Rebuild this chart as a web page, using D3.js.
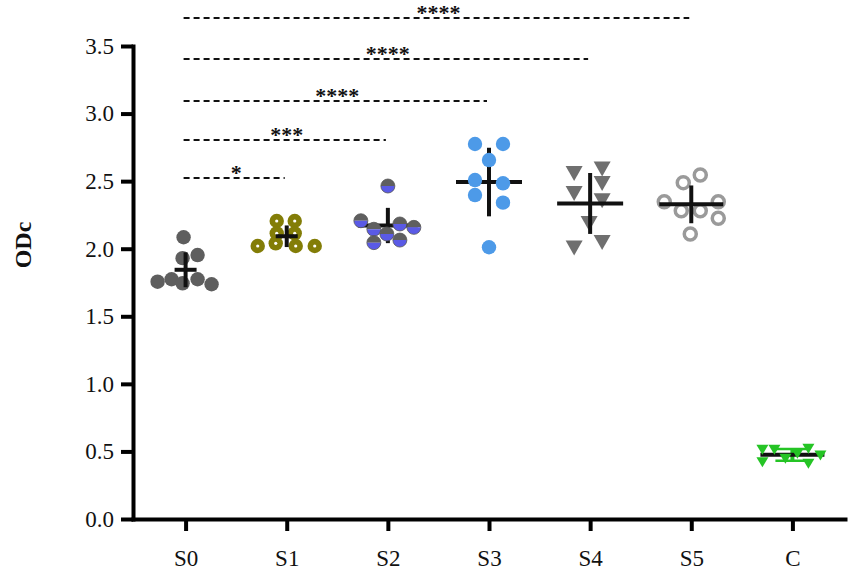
<!DOCTYPE html>
<html><head><meta charset="utf-8">
<script src="https://cdn.jsdelivr.net/npm/d3@7"></script>
<style>
html,body{margin:0;padding:0;background:#fff;}
svg{display:block;font-family:"Liberation Serif","Times New Roman",serif;}
</style></head>
<body><svg id="chart" width="851" height="574"></svg>
<script>
// ---- data ----
const categories = ["S0","S1","S2","S3","S4","S5","C"];
const valuesS0 = [2.085,1.93,1.953,1.756,1.774,1.744,1.774,1.737];
const valuesS1 = [2.205,2.205,2.114,2.114,2.02,2.04,2.02,2.02];
const valuesS2 = [2.464,2.207,2.144,2.109,2.183,2.158,2.045,2.064];
const valuesS3 = [2.775,2.775,2.656,2.508,2.484,2.397,2.341,2.011];
const valuesS4 = [2.563,2.595,2.489,2.415,2.361,2.193,2.011,2.052];
const valuesS5 = [2.489,2.545,2.348,2.281,2.281,2.348,2.225,2.109];
const valuesC  = [0.516,0.516,0.523,0.486,0.449,0.474,0.424,0.412];
const yTicks = [0,0.5,1.0,1.5,2.0,2.5,3.0,3.5];
const yLabel = "ODc";
// significance comparisons
const sigFrom = ["S0","S0","S0","S0","S0"];
const sigTo = ["S5","S4","S3","S2","S1"];
const sigLevel = [3.707,3.404,3.093,2.805,2.523];
const sigLabel = ["****","****","****","***","*"];

// ---- styles (not data) ----
const jitter = {
  S0:[-2,-3,12,-28,-14,-3,12,26],
  S1:[-10,8,-10,8,-29,-11,9,28],
  S2:[0,-27,-14,-1,12,26,-14,12],
  S3:[-14,14,0,-14,14,-14,14,0],
  S4:[-16,12,12,-16,12,-1,-16,12],
  S5:[-8,9,-27,-10,9,27,27,-1],
  C:[-30,-18,16,5,-7,28,-30,16]
};
const style = {
  S0:{shape:"circle", fill:"#5e5e5e", meanHalf:11, barsOnTop:true, bar:"#111"},
  S1:{shape:"dotcircle", fill:"#837d07", meanHalf:11, barsOnTop:true, bar:"#111"},
  S2:{shape:"halfcircle", fill:"#5a5ae6", top:"#5f5f5f", meanHalf:30, barsOnTop:false, bar:"#111"},
  S3:{shape:"circle", fill:"#4d9ae8", meanHalf:33, barsOnTop:false, bar:"#111"},
  S4:{shape:"tri", fill:"#6f6f6f", meanHalf:33, barsOnTop:true, bar:"#111", tw:17, th:15},
  S5:{shape:"open", fill:"#9a9a9a", meanHalf:32, barsOnTop:true, bar:"#111"},
  C:{shape:"tri", fill:"#25c425", meanHalf:32, barsOnTop:false, bar:"#111", tw:12, th:10, green:true}
};
const groups = [valuesS0,valuesS1,valuesS2,valuesS3,valuesS4,valuesS5,valuesC];
const serif = "'Liberation Serif','Times New Roman',Times,serif";

const svg = d3.select("#chart");
const x = d3.scalePoint().domain(categories).range([133,845]).padding(0.52);
const y = d3.scaleLinear().domain([0,3.5]).range([519,46]);

// axes
const yAxis = svg.append("g").attr("transform","translate(133,0)")
  .call(d3.axisLeft(y).tickValues(yTicks).tickFormat(d3.format(".1f")).tickSize(12).tickSizeOuter(0).tickPadding(7));
const xAxis = svg.append("g").attr("transform","translate(0,519)")
  .call(d3.axisBottom(x).tickSize(12).tickSizeOuter(0).tickPadding(19));
[yAxis,xAxis].forEach(a=>{
  a.select(".domain").attr("stroke","#000").attr("stroke-width",4).attr("stroke-linecap","square");
  a.selectAll(".tick line").attr("stroke","#000").attr("stroke-width",4);
  a.selectAll(".tick text").attr("fill","#111").style("font-family",serif).style("font-size","23px");
});
svg.append("text").attr("transform","translate(31,245) rotate(-90)")
  .attr("text-anchor","middle").style("font-family",serif).style("font-size","24px").style("font-weight","bold").attr("fill","#111").text(yLabel);

// significance
sigLevel.forEach((lv,i)=>{
  const yy = y(lv);
  svg.append("line").attr("x1",x(sigFrom[i])-2).attr("x2",x(sigTo[i])-2).attr("y1",yy).attr("y2",yy)
    .attr("stroke","#111").attr("stroke-width",2).attr("stroke-dasharray","6,4");
  svg.append("text").attr("x",(x(sigFrom[i])+x(sigTo[i]))/2).attr("y",yy+2).attr("text-anchor","middle")
    .style("font-family",serif).style("font-size","22px").style("font-weight","bold").attr("fill","#111").text(sigLabel[i]);
});

function drawBars(g, cx, vals, st){
  const m = d3.mean(vals), sd = d3.deviation(vals);
  const col = st.green ? st.fill : st.bar;
  g.append("line").attr("x1",cx).attr("x2",cx).attr("y1",y(m+sd)).attr("y2",y(m-sd))
    .attr("stroke",col).attr("stroke-width",4);
  if(st.green){
    [m+sd,m-sd].forEach(v=>g.append("line").attr("x1",cx-17).attr("x2",cx+17).attr("y1",y(v)).attr("y2",y(v))
      .attr("stroke",col).attr("stroke-width",2.5));
  }
  g.append("line").attr("x1",cx-st.meanHalf).attr("x2",cx+st.meanHalf).attr("y1",y(m)).attr("y2",y(m))
    .attr("stroke",st.bar).attr("stroke-width",4);
}
function drawPoints(g, cx, vals, st, jit){
  vals.forEach((v,i)=>{
    const px = cx + jit[i], py = y(v);
    if(st.shape==="circle"){
      g.append("circle").attr("cx",px).attr("cy",py).attr("r",7.2).attr("fill",st.fill);
    } else if(st.shape==="dotcircle"){
      g.append("circle").attr("cx",px).attr("cy",py).attr("r",7.2).attr("fill",st.fill);
      g.append("circle").attr("cx",px).attr("cy",py).attr("r",1.6).attr("fill","#fff");
    } else if(st.shape==="halfcircle"){
      const r=7;
      g.append("path").attr("d",`M${px-r},${py}A${r},${r} 0 0 1 ${px+r},${py}Z`).attr("fill",st.top);
      g.append("path").attr("d",`M${px-r},${py}A${r},${r} 0 0 0 ${px+r},${py}Z`).attr("fill",st.fill);
      g.append("circle").attr("cx",px).attr("cy",py).attr("r",r).attr("fill","none").attr("stroke","#555").attr("stroke-width",0.8);
    } else if(st.shape==="tri"){
      const w=st.tw/2, h=st.th;
      g.append("path").attr("d",`M${px-w},${py-h*0.45}L${px+w},${py-h*0.45}L${px},${py+h*0.55}Z`).attr("fill",st.fill);
    } else if(st.shape==="open"){
      g.append("circle").attr("cx",px).attr("cy",py).attr("r",6).attr("fill","none").attr("stroke",st.fill).attr("stroke-width",3.5);
    }
  });
}
categories.forEach((c,k)=>{
  const g = svg.append("g");
  const st = style[c], cx = x(c), vals = groups[k];
  if(st.barsOnTop){ drawPoints(g,cx,vals,st,jitter[c]); drawBars(g,cx,vals,st); }
  else { drawBars(g,cx,vals,st); drawPoints(g,cx,vals,st,jitter[c]); }
});
</script></body></html>
